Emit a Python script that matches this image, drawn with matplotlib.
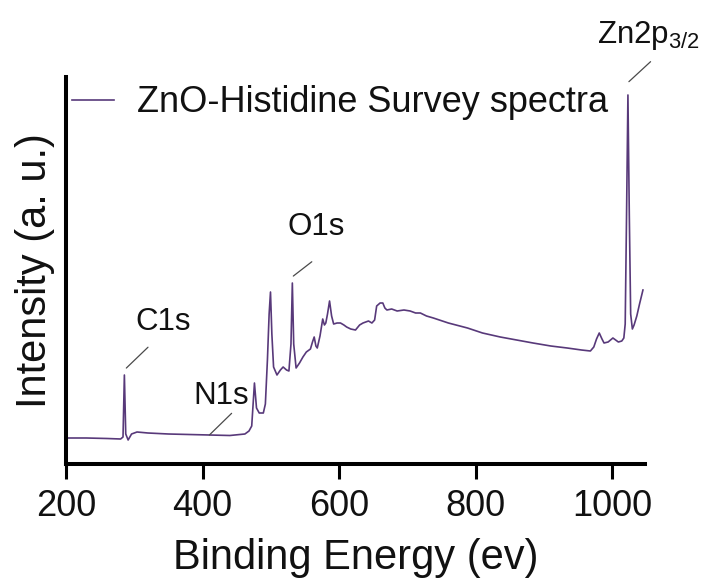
import matplotlib
matplotlib.use("Agg")
import matplotlib.pyplot as plt
from matplotlib.transforms import offset_copy

plt.rcParams["font.family"] = ["Liberation Sans", "DejaVu Sans"]
plt.rcParams["mathtext.fontset"] = "custom"
plt.rcParams["mathtext.rm"] = "Liberation Sans"
plt.rcParams["mathtext.it"] = "Liberation Sans"

# XPS survey spectrum of ZnO-Histidine (binding energy in eV, intensity in a.u.)
energy = [200, 230, 260, 280, 283.5, 285.5, 287.5, 291, 296, 304, 320, 350, 380,
          410, 440, 462, 468, 472, 476, 479, 483, 489, 492, 495, 497.5, 499.5,
          501.5, 504, 509, 514, 518, 523, 526.5, 529.5, 531.5, 533.5, 537, 542,
          547, 552, 558, 561, 563.5, 566, 568, 572, 576, 578.5, 580.5, 583, 586,
          589, 592, 597, 602, 607, 611, 617, 624, 630, 635, 643, 648, 652, 655,
          660, 664, 667, 670, 677, 685, 695, 704, 712, 719, 728, 738, 760, 788,
          810, 836, 860, 884, 910, 934, 955, 968, 973, 977, 981, 985, 988, 994,
          1001, 1005, 1009, 1014, 1017, 1019, 1021, 1023, 1025, 1027, 1029.5,
          1032, 1036, 1040, 1045]
intensity = [26, 26, 25.5, 25, 27, 89, 30, 24, 30, 32, 31, 30, 29.5,
             29, 28.5, 30, 33, 38, 81, 56, 51, 51, 60, 104, 150, 172,
             130, 97, 89, 94, 97, 94, 93, 120, 181, 120, 96, 101,
             107, 112, 115, 122, 127, 118, 116, 128, 145, 139, 141, 150, 163,
             148, 140, 141, 141, 139, 137, 135, 134, 139, 141, 143, 141, 144, 158,
             161, 161, 156, 154, 155, 153, 154, 153, 151, 151, 148, 146, 141, 136,
             131, 127, 124, 121, 118, 116, 114, 113, 117, 125, 131, 125, 121, 122,
             126, 124, 122, 123, 126, 140, 250, 369, 250, 150, 135,
             139, 148, 160, 174]

# Peak labels: (text, energy, intensity, line start pt, line end pt, text centre pt)
peak_labels = [
    ("C1s", 285.5, 89, (1.4, 5), (17, 20), (28, 38)),
    ("N1s", 410, 29, (0, 0), (16, 15.6), (8.5, 28)),
    ("O1s", 531.5, 181, (0.7, 5), (14, 15.3), (17, 40)),
    ("Zn2p$_{\\mathregular{3/2}}$", 1023, 369, (0.7, 9.6), (16.3, 24), (15, 43)),
]

line_color = "#58397a"
text_color = "#111111"

fig = plt.figure(figsize=(7.05, 5.88), dpi=100)
ax = fig.add_axes([66 / 705, 1 - 464 / 588, (645 - 66) / 705, (464 - 77) / 588])

ax.plot(energy, intensity, color=line_color, lw=1.2,
        label="ZnO-Histidine Survey spectra")

ax.set_xlim(200, 1048)
ax.set_ylim(0, 387)

for side in ("top", "right"):
    ax.spines[side].set_visible(False)
for side in ("left", "bottom"):
    ax.spines[side].set_linewidth(2.9)
    ax.spines[side].set_color("black")

ax.set_xticks([200, 400, 600, 800, 1000])
ax.set_yticks([])
ax.tick_params(axis="x", direction="out", length=11, width=2.2, pad=7,
               labelsize=26, labelcolor=text_color)

ax.set_xlabel("Binding Energy (ev)", fontsize=30, color=text_color, labelpad=10)
ax.set_ylabel("Intensity (a. u.)", fontsize=30, color=text_color, labelpad=8)

for text, e, i, p0, p1, pt in peak_labels:
    start = offset_copy(ax.transData, fig=fig, x=p0[0], y=p0[1], units="points")
    ax.annotate("", xy=(e, i), xycoords=start,
                xytext=(p1[0] - p0[0], p1[1] - p0[1]), textcoords="offset points",
                arrowprops=dict(arrowstyle="-", color="#4a4a4a", lw=0.9,
                                shrinkA=0, shrinkB=0),
                annotation_clip=False)
    ax.annotate(text, xy=(e, i), xytext=pt, textcoords="offset points",
                ha="center", va="center", fontsize=22.5, color=text_color,
                annotation_clip=False)

ax.legend(loc="center left", bbox_to_anchor=(72 / 705, 1 - 103 / 588),
          bbox_transform=fig.transFigure, frameon=False, fontsize=26,
          handlelength=1.17, handletextpad=0.62, borderpad=0, borderaxespad=0,
          labelcolor=text_color)

fig.savefig("out.png", dpi=100)
